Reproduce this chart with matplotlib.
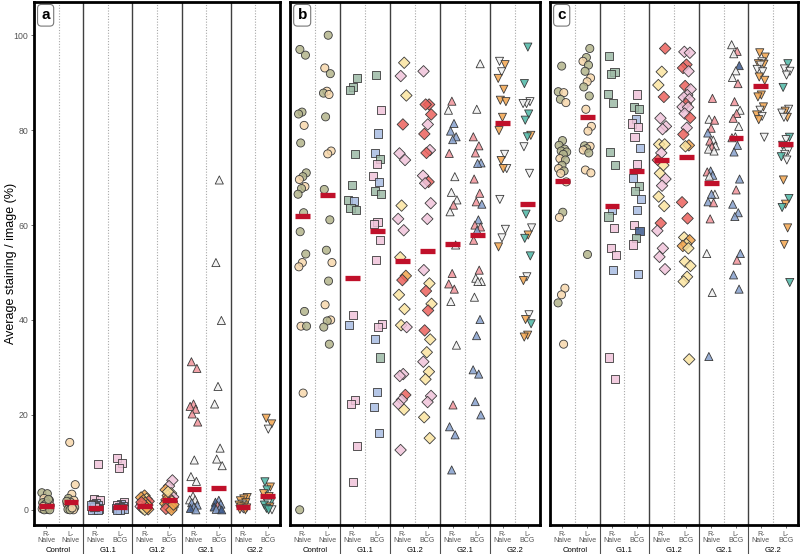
import numpy as np
import matplotlib.pyplot as plt
from matplotlib.colors import to_rgba
from matplotlib.transforms import blended_transform_factory

plt.rcParams['font.family'] = ['Liberation Sans', 'DejaVu Sans']

groups = ['Control', 'G1.1', 'G1.2', 'G2.1', 'G2.2']
tick_labels = ['R-\nNaive', 'L-\nNaive'] + ['R-\nNaive', 'L-\nBCG'] * 4
group_markers = ['o', 's', 'D', '^', 'v']

# colour codes for each point (one letter per point)
palette = {
    'g': '#b3b48b', 't': '#f7d8ac', 's': '#9dbaa6', 'b': '#a8bce2',
    'p': '#f0c4da', 'R': '#ec625d', 'y': '#fbe4a0', 'o': '#f3a54e',
    'w': '#f2f2f2', 'B': '#86a0cd', 'r': '#f2939a', 'c': '#4cb7a5',
    'n': '#3d5a8e',
}

# ---- panel a ----
a_vals = [
    [3.6, 3.4, 2.4, 2.0, 1.7, 1.5, 1.2, 1.0, 0.9, 0.8, 0.6, 0.5, 0.3, 0.2, 0.1, 0.0, 0.0, 1.3, 0.7, 2.2],
    [14.2, 5.3, 3.3, 2.4, 2.0, 1.6, 1.2, 0.9, 0.7, 0.5, 0.3, 0.1, 0.0, 0.0, 1.8, 0.4],
    [9.7, 2.2, 2.0, 1.5, 1.2, 1.0, 0.8, 0.6, 0.4, 0.3, 0.2, 0.1, 0.0, 0.0, 0.5, 0.9],
    [11.0, 9.8, 8.8, 1.6, 1.2, 1.0, 0.8, 0.6, 0.4, 0.3, 0.2, 0.1, 0.0, 0.0],
    [3.0, 2.6, 2.3, 2.0, 1.8, 1.5, 1.2, 1.0, 0.9, 0.7, 0.5, 0.3, 0.1, 0.0, 1.6, 0.4],
    [6.2, 5.0, 4.2, 3.5, 3.0, 2.7, 2.4, 2.1, 1.8, 1.5, 1.3, 1.0, 0.8, 0.6, 0.4, 0.2, 0.0, 3.8, 1.1],
    [31.2, 29.8, 22.3, 21.8, 21.2, 20.2, 18.5, 10.5, 7.0, 6.0, 2.9, 2.1, 2.1, 1.5, 1.0, 0.6, 0.3, 0.0],
    [69.5, 52.1, 39.9, 26.0, 22.3, 13.0, 10.7, 9.3, 2.0, 1.6, 1.2, 0.9, 0.6, 0.3, 0.1, 0.0],
    [2.6, 2.3, 1.9, 1.5, 1.2, 1.0, 0.8, 0.6, 0.4, 0.2, 0.1, 0.0],
    [19.3, 18.1, 17.0, 5.9, 4.8, 4.2, 3.4, 2.8, 2.2, 1.8, 1.4, 1.0, 0.6, 0.3, 0.0, 0.0],
]
a_cols = ['ggtgtgggtgtggtggggtg', 'tttgtgtgtgtgtggt', 'pppbpbbpbsbpbbpb', 'ppppbpbbbpbbbb',
          'ooyoRoyoopoyoyRo', 'ppoyopRoyRooyopRoyo', 'rrrrrrrwwwwwwBBBnB', 'wwwwwwwwBnBrnBBn',
          'oooowoooowoo', 'oowcocooccwcocwc']
a_bars = [0.9, 1.6, 0.4, 0.6, 0.9, 2.1, 4.4, 4.6, 0.6, 3.0]

# ---- panel b ----
b_vals = [
    [97.0, 95.8, 83.8, 83.4, 81.0, 77.3, 71.0, 70.2, 69.6, 68.1, 67.7, 66.5, 62.6, 58.6, 53.9, 52.1, 51.2, 41.8, 38.7, 38.7, 24.6, 0.0],
    [100.0, 93.1, 91.9, 88.2, 87.8, 87.5, 82.8, 75.6, 75.0, 67.5, 61.1, 54.7, 52.1, 48.2, 43.2, 40.0, 39.8, 38.5, 34.9],
    [91.0, 89.0, 88.4, 74.9, 68.4, 65.3, 65.1, 63.6, 63.2, 41.1, 38.9, 23.2, 22.3, 13.5, 5.9],
    [91.6, 84.2, 79.3, 75.1, 73.9, 72.8, 70.4, 69.0, 67.2, 66.5, 60.6, 60.2, 56.8, 52.6, 39.2, 38.6, 35.9, 32.1, 24.9, 21.6, 16.1],
    [94.2, 91.4, 87.3, 81.2, 75.1, 73.7, 64.1, 61.3, 58.9, 53.2, 49.3, 48.4, 45.3, 42.3, 38.9, 38.5, 28.6, 28.2, 24.2, 23.2, 22.3, 21.1, 12.6],
    [92.4, 85.4, 85.4, 83.3, 81.2, 79.2, 75.8, 75.2, 70.4, 69.1, 68.8, 64.6, 61.3, 50.5, 47.7, 46.1, 43.4, 42.0, 37.8, 35.9, 33.2, 31.2, 29.1, 27.5, 24.0, 22.7, 19.5, 15.1],
    [86.1, 84.2, 81.4, 79.8, 78.6, 78.0, 75.1, 70.2, 66.9, 65.3, 64.2, 62.8, 55.8, 49.8, 47.6, 46.5, 43.9, 34.7, 22.1, 17.5, 15.8, 8.4],
    [94.0, 84.4, 78.6, 76.7, 75.2, 73.1, 73.0, 69.7, 66.7, 64.9, 64.4, 61.1, 60.0, 59.6, 58.9, 56.8, 50.5, 48.8, 48.1, 48.1, 44.8, 40.1, 36.7, 29.5, 28.6, 22.8, 20.0],
    [94.5, 93.8, 92.3, 90.9, 88.6, 86.3, 86.0, 82.7, 79.9, 74.9, 73.6, 71.9, 71.9, 65.4, 59.1, 57.3, 55.4],
    [97.5, 89.8, 86.0, 85.6, 85.6, 83.4, 82.1, 78.9, 78.6, 76.5, 70.9, 62.3, 59.4, 57.9, 57.2, 53.5, 49.1, 48.3, 41.1, 40.1, 39.2, 36.8, 36.4],
]
b_cols = ['ggggtgggttgggggttgtgtg', 'gtgtgtgttgggtgttggg', 'ssssssbsspbpppp', 'spbbsppbssppppppbsbbb',
          'ypyRppyppyoRyyypppRppyp', 'pRRRpRpRpRppppyRyRRyypyyppyy', 'rwBBBBrwwwrwwrrrwwrBBB',
          'wwrrrBBrrrBBrrBrrwwwwBBBBBB', 'wowoooooowowowwwo', 'ccwwwccocwwcwoccwowocoo']
b_bars = [61.9, 66.3, 48.8, 58.7, 52.5, 54.6, 56.1, 57.9, 81.4, 64.4]

# ---- panel c ----
c_vals = [
    [93.5, 88.1, 87.9, 86.5, 85.8, 77.8, 76.8, 76.0, 75.6, 75.4, 74.9, 74.0, 73.7, 72.6, 71.9, 71.4, 70.9, 69.1, 62.7, 61.6, 46.7, 45.3, 43.6, 34.9],
    [97.2, 95.3, 94.5, 93.7, 92.4, 91.0, 90.2, 89.1, 87.2, 84.4, 80.8, 79.8, 76.7, 76.6, 76.1, 75.8, 75.2, 71.6, 71.0, 53.8],
    [95.6, 92.3, 91.8, 87.7, 85.8, 75.3, 72.6, 63.2, 61.8, 59.3, 55.1, 53.7, 50.5, 32.1, 27.6],
    [87.5, 84.9, 84.4, 82.3, 81.4, 80.7, 78.5, 76.3, 72.8, 70.0, 68.3, 67.2, 65.5, 63.2, 60.1, 58.7, 57.3, 55.9, 49.7],
    [97.2, 92.3, 89.5, 87.0, 82.5, 80.8, 80.2, 77.0, 77.0, 75.2, 73.7, 72.6, 70.9, 69.7, 68.3, 66.0, 64.0, 60.4, 58.8, 55.1, 53.3, 50.7],
    [96.5, 96.3, 93.8, 93.1, 92.4, 89.3, 88.6, 87.4, 86.9, 86.5, 85.5, 84.9, 84.8, 83.5, 82.6, 80.5, 79.1, 76.8, 76.6, 64.8, 61.4, 57.4, 56.8, 56.0, 55.6, 55.1, 52.3, 51.4, 49.1, 48.1, 31.7],
    [86.7, 82.3, 82.1, 80.4, 79.4, 77.9, 77.7, 76.7, 76.5, 76.0, 75.6, 71.4, 71.2, 70.5, 70.3, 66.5, 66.5, 64.9, 64.7, 61.3, 54.0, 45.8, 32.3],
    [98.0, 96.6, 96.1, 93.6, 92.5, 91.1, 89.8, 86.0, 84.2, 83.5, 82.5, 80.8, 78.6, 78.4, 76.8, 75.4, 69.7, 67.4, 64.4, 62.6, 61.8, 54.0, 52.6, 49.5, 46.5],
    [96.3, 95.4, 94.4, 94.0, 93.9, 93.7, 92.8, 92.3, 91.2, 90.5, 87.4, 87.0, 84.9, 84.2, 83.2, 82.9, 82.2, 78.5],
    [94.0, 92.9, 92.4, 91.6, 89.0, 84.4, 84.0, 83.6, 82.7, 82.7, 78.5, 78.0, 76.8, 75.6, 74.9, 74.4, 73.7, 69.5, 65.6, 64.4, 63.7, 59.4, 55.9, 47.9],
]
c_cols = ['ggtgtggggggtggtgttgtttgt', 'ggtggttggtttgtgtgttg', 'sssssssbspppbpp',
          'pssbpppbpbssbbpnspb', 'RyyRpppyypRyyppyyRpppp', 'ppRRpRppppRpppRpRoyRRyoyoyyyyyy',
          'rwrrBwrwrwwBrBwwBBrrwwB', 'wrwnwwrrwrrwwrBBBrBBBBrBB', 'oowoowwwooooowowow',
          'cwwwcwowowcwcwwcwococoo']
c_bars = [69.3, 82.7, 64.1, 71.4, 73.8, 74.4, 68.9, 78.4, 89.3, 77.0]

panels = [('a', a_vals, a_cols, a_bars), ('b', b_vals, b_cols, b_bars), ('c', c_vals, c_cols, c_bars)]
boxes = [(34, 280), (290, 540), (550, 798)]

W, H = 800, 554
fig = plt.figure(figsize=(W / 100, H / 100), dpi=100)
top_px, bot_px = 2, 525

for k, (letter, vals, cols, bars) in enumerate(panels):
    x0, x1 = boxes[k]
    ax = fig.add_axes([x0 / W, 1 - bot_px / H, (x1 - x0) / W, (bot_px - top_px) / H])
    ax.set_xlim(0.5, 10.5)
    ax.set_ylim(-3.2, 107)
    for xv in [1.5, 3.5, 5.5, 7.5, 9.5]:
        ax.axvline(xv, color='#a8a8a8', lw=0.8, ls=(0, (1, 1.5)), zorder=1)
    for xv in [2.5, 4.5, 6.5, 8.5]:
        ax.axvline(xv, color='#404040', lw=1.0, zorder=1)

    for j in range(10):
        v = np.array(vals[j])
        cc = cols[j]
        n = len(v)
        idx = np.arange(n)
        off = ((idx * 0.618034 + j * 0.37 + k * 0.21) % 1 - 0.5) * 0.36
        fc = [to_rgba(palette[cc[i % len(cc)]], 0.85) for i in range(n)]
        ax.scatter(j + 1 + off, v, s=34, marker=group_markers[j // 2], facecolors=fc,
                   edgecolors='#3a3a3a', linewidths=0.6, zorder=3)
        ax.plot([j + 1 - 0.3, j + 1 + 0.3], [bars[j], bars[j]], color='#c0102a',
                lw=3.8, solid_capstyle='butt', zorder=5)

    for sp in ax.spines.values():
        sp.set_linewidth(2)
        sp.set_color('black')

    ax.set_xticks(range(1, 11))
    ax.set_xticklabels(tick_labels, fontsize=5, color='#555555', linespacing=0.95)
    ax.tick_params(axis='x', length=2.5, width=0.6, pad=1.5, color='#555555')

    if k == 0:
        ax.set_yticks([0, 20, 40, 60, 80, 100])
        ax.tick_params(axis='y', labelsize=6.3, length=2.5, width=0.6, pad=1.5,
                       colors='#555555')
        ax.set_ylabel('Average staining / image (%)', fontsize=9)
        ax.yaxis.set_label_coords(-0.07, 0.5)
    else:
        ax.set_yticks([])

    trans = blended_transform_factory(ax.transData, ax.transAxes)
    for xv in [2.5, 4.5, 6.5, 8.5]:
        ax.plot([xv, xv], [0, -0.06], transform=trans, color='#505050', lw=0.8, clip_on=False)
    for g, name in enumerate(groups):
        ax.text(2 * g + 1.5, -0.048, name, transform=trans, ha='center', va='center',
                fontsize=5.6, color='black')

    ax.text(0.03, 0.988, letter, transform=ax.transAxes, ha='left', va='top',
            fontsize=11, fontweight='bold',
            bbox=dict(boxstyle='round,pad=0.25', fc='white', ec='#777777', lw=0.8), zorder=6)

fig.savefig('out.png', dpi=100)
